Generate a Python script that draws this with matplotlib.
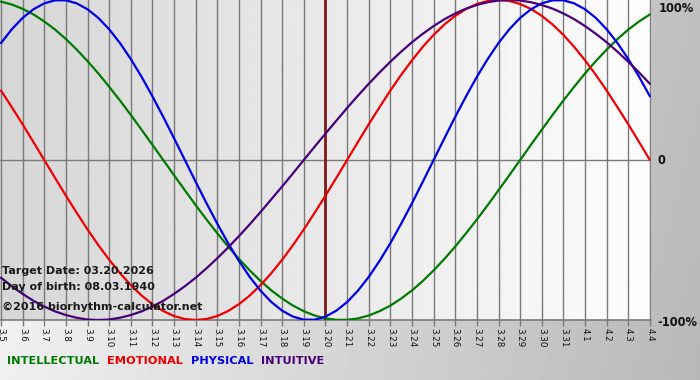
import numpy as np
import matplotlib
matplotlib.use("Agg")
import matplotlib.pyplot as plt

dates = ["3.5", "3.6", "3.7", "3.8", "3.9", "3.10", "3.11", "3.12", "3.13", "3.14",
         "3.15", "3.16", "3.17", "3.18", "3.19", "3.20", "3.21", "3.22", "3.23", "3.24",
         "3.25", "3.26", "3.27", "3.28", "3.29", "3.30", "3.31", "4.1", "4.2", "4.3", "4.4"]

# values read every half day, from 3.5 to 4.4
intellectual = [0.990, 0.972, 0.945, 0.910, 0.866, 0.815, 0.756, 0.690, 0.618, 0.541,
                0.458, 0.372, 0.282, 0.189, 0.095, 0.000,
                -0.095, -0.189, -0.282, -0.372, -0.458, -0.541, -0.618, -0.690, -0.756,
                -0.815, -0.866, -0.910, -0.945, -0.972, -0.990, -0.999, -0.999, -0.990,
                -0.972, -0.945, -0.910, -0.866, -0.815, -0.756, -0.690, -0.618, -0.541,
                -0.458, -0.372, -0.282, -0.189, -0.095, 0.000,
                0.095, 0.189, 0.282, 0.372, 0.458, 0.541, 0.618, 0.690, 0.756, 0.815,
                0.866, 0.910]
emotional = [0.434, 0.330, 0.223, 0.112, 0.000,
             -0.112, -0.223, -0.330, -0.434, -0.532, -0.623, -0.707, -0.782, -0.847,
             -0.901, -0.944, -0.975, -0.994, -1.000, -0.994, -0.975, -0.944, -0.901,
             -0.847, -0.782, -0.707, -0.623, -0.532, -0.434, -0.330, -0.223, -0.112, 0.000,
             0.112, 0.223, 0.330, 0.434, 0.532, 0.623, 0.707, 0.782, 0.847, 0.901, 0.944,
             0.975, 0.994, 1.000, 0.994, 0.975, 0.944, 0.901, 0.847, 0.782, 0.707, 0.623,
             0.532, 0.434, 0.330, 0.223, 0.112, 0.000]
physical = [0.731, 0.817, 0.888, 0.942, 0.979, 0.998, 0.998, 0.979, 0.942, 0.888, 0.817,
            0.731, 0.631, 0.520, 0.398, 0.270, 0.136, 0.000,
            -0.136, -0.270, -0.398, -0.520, -0.631, -0.731, -0.817, -0.888, -0.942,
            -0.979, -0.998, -0.998, -0.979, -0.942, -0.888, -0.817, -0.731, -0.631,
            -0.520, -0.398, -0.270, -0.136, 0.000,
            0.136, 0.270, 0.398, 0.520, 0.631, 0.731, 0.817, 0.888, 0.942, 0.979, 0.998,
            0.998, 0.979, 0.942, 0.888, 0.817, 0.731, 0.631, 0.520, 0.398]
intuitive = [-0.736, -0.789, -0.837, -0.880, -0.916, -0.946, -0.969, -0.986, -0.997, -1.000,
             -0.997, -0.986, -0.969, -0.946, -0.916, -0.880, -0.837, -0.789, -0.736, -0.677,
             -0.614, -0.547, -0.476, -0.402, -0.325, -0.245, -0.165, -0.083, 0.000,
             0.083, 0.165, 0.245, 0.325, 0.402, 0.476, 0.547, 0.614, 0.677, 0.736, 0.789,
             0.837, 0.880, 0.916, 0.946, 0.969, 0.986, 0.997, 1.000, 0.997, 0.986, 0.969,
             0.946, 0.916, 0.880, 0.837, 0.789, 0.736, 0.677, 0.614, 0.547, 0.476]

target_index = 15
series = [("INTELLECTUAL", intellectual, "#007a00"),
          ("EMOTIONAL", emotional, "#f00000"),
          ("PHYSICAL", physical, "#0000e6"),
          ("INTUITIVE", intuitive, "#48007a")]
y_labels = ["100%", "0", "-100%"]
info_lines = ["Target Date: 03.20.2026", "Day of birth: 08.03.1940",
              "\u00a92016 biorhythm-calculator.net"]

W, H = 700, 380
fig = plt.figure(figsize=(W / 100, H / 100), dpi=100)

# figure background gradient
bg = fig.add_axes([0, 0, 1, 1], zorder=0)
gx = np.linspace(0, 1, 200)
gy = np.linspace(0, 1, 100)
GX, GY = np.meshgrid(gx, gy)
val = 0.97 - 0.22 * GX - 0.03 * (1 - GY)
bg.imshow(val, cmap="gray", vmin=0, vmax=1, aspect="auto", extent=[0, 1, 0, 1],
          origin="lower", interpolation="bilinear")
bg.set_axis_off()

n = len(dates)
x = np.arange(n)
xs = np.arange(len(physical)) * 0.5
ax = fig.add_axes([0.0, (H - 320) / H, 651 / W, 320 / H], zorder=1)
xmin, xmax = -0.046, n - 1 + 0.05
ax.set_xlim(xmin, xmax)
ax.set_ylim(-1.0, 1.0)

# plot area gradient
pg = np.linspace(0.84, 0.99, 300)[None, :]
ax.imshow(pg, cmap="gray", vmin=0, vmax=1, aspect="auto",
          extent=[xmin, xmax, -1, 1], interpolation="bilinear", zorder=0)

for xi in x:
    ax.axvline(xi, color="#7a7a7a", lw=1.0, zorder=1)
ax.axhline(0, color="#7a7a7a", lw=1.0, zorder=1)
ax.axhline(-1, color="#7a7a7a", lw=1.2, zorder=1, clip_on=False)
ax.axvline(x[target_index], color="#7e1a1a", lw=2.0, zorder=2)

for name, vals, col in series:
    ax.plot(xs, vals, color=col, lw=1.6, zorder=3, solid_joinstyle="round",
            solid_capstyle="round")

for s in ax.spines.values():
    s.set_visible(False)
ax.set_yticks([])
ax.set_xticks(x)
ax.set_xticklabels(dates, rotation=-90, fontsize=6.3, color="#111111")
ax.tick_params(axis="x", length=4, width=1, color="#7a7a7a", pad=2)

# right labels
fig.text(659 / W, 1 - 8 / H, y_labels[0], fontsize=8.3, fontweight="bold",
         color="#111111", va="center", ha="left")
fig.text(658 / W, 1 - 161 / H, y_labels[1], fontsize=8.3, fontweight="bold",
         color="#111111", va="center", ha="left")
fig.text(657 / W, 1 - 322 / H, y_labels[2], fontsize=8.3, fontweight="bold",
         color="#111111", va="center", ha="left")

# info text
for t, yy in zip(info_lines, [271, 287, 307]):
    fig.text(2 / W, 1 - yy / H, t, fontsize=8.0, fontweight="bold", color="#1a1a1a",
             va="center", ha="left", zorder=5)

# legend words
xpos = 7
for name, vals, col in series:
    t = fig.text(xpos / W, 1 - 361 / H, name, fontsize=8.2, fontweight="bold",
                 color=col, va="center", ha="left")
    fig.canvas.draw()
    bb = t.get_window_extent()
    xpos = bb.x1 + 8

fig.savefig("out.png", dpi=100)
